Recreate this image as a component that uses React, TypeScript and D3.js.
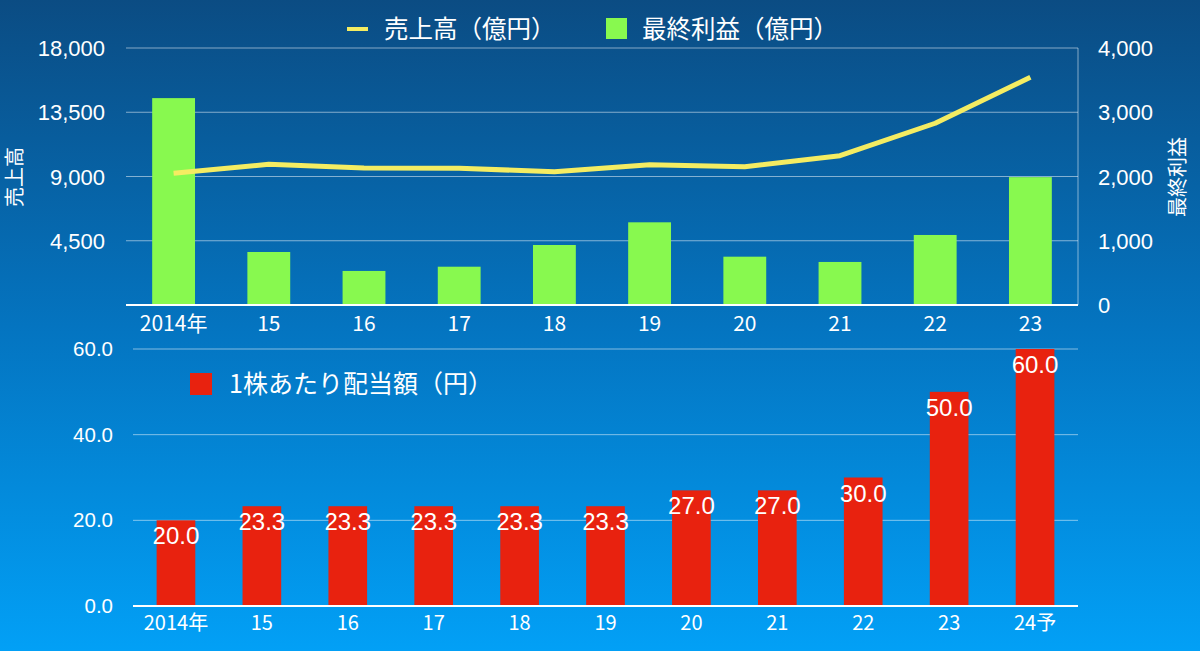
import { useEffect, useRef } from 'react';
import * as d3 from 'd3';

// ── Data ──────────────────────────────────────────────────
const topYears = ['2014年', '15', '16', '17', '18', '19', '20', '21', '22', '23'];
const sales    = [9220, 9860, 9600, 9580, 9330, 9820, 9690, 10460, 12730, 15950];
const profit   = [3220, 825, 530, 596, 934, 1287, 752, 670, 1090, 1990];

const divYears = ['2014年', '15', '16', '17', '18', '19', '20', '21', '22', '23', '24予'];
const dividend = [20.0, 23.3, 23.3, 23.3, 23.3, 23.3, 27.0, 27.0, 30.0, 50.0, 60.0];

const salesTicks  = [0, 4500, 9000, 13500, 18000];
const profitTicks = [0, 1000, 2000, 3000, 4000];
const divTicks    = [0, 20, 40, 60];

const W = 1200;
const H = 651;
const NUM_FONT = '"Helvetica Neue", Arial, "Liberation Sans", sans-serif';
const JP_FONT  = '"Noto Sans CJK JP", "Helvetica Neue", Arial, sans-serif';

const GREEN  = '#88f94f';
const YELLOW = '#f4ec62';
const RED    = '#e8220f';
const GRID   = 'rgba(255,255,255,0.5)';

export default function App() {
  const svgRef = useRef<SVGSVGElement>(null);

  useEffect(() => {
    if (!svgRef.current) return;
    const svg = d3.select(svgRef.current);
    svg.selectAll('*').remove();

    // ── Background ─────────────────────────────────────────
    const defs = svg.append('defs');
    const grad = defs.append('linearGradient').attr('id', 'bg')
      .attr('x1', 0).attr('y1', 0).attr('x2', 0).attr('y2', 1);
    grad.append('stop').attr('offset', '0%').attr('stop-color', '#0b4c83');
    grad.append('stop').attr('offset', '50%').attr('stop-color', '#0474c0');
    grad.append('stop').attr('offset', '100%').attr('stop-color', '#02a0f6');
    svg.append('rect').attr('width', W).attr('height', H).attr('fill', 'url(#bg)');

    // ── Top chart ──────────────────────────────────────────
    const t = { left: 126, right: 1078, top: 48, bottom: 305 };
    const xTop = d3.scaleBand<string>().domain(topYears)
      .range([t.left, t.right]).paddingInner(0.55).paddingOuter(0.275);
    const ySales  = d3.scaleLinear().domain([0, 18000]).range([t.bottom, t.top]);
    const yProfit = d3.scaleLinear().domain([0, 4000]).range([t.bottom, t.top]);

    const gTop = svg.append('g');

    gTop.selectAll('line.grid').data(salesTicks.filter(d => d > 0)).join('line')
      .attr('x1', t.left).attr('x2', t.right)
      .attr('y1', d => ySales(d)).attr('y2', d => ySales(d))
      .attr('stroke', GRID).attr('stroke-width', 1);

    gTop.append('line')
      .attr('x1', t.right).attr('x2', t.right).attr('y1', t.top).attr('y2', t.bottom)
      .attr('stroke', GRID).attr('stroke-width', 1);

    gTop.selectAll('rect.bar').data(profit).join('rect')
      .attr('x', (_, i) => xTop(topYears[i])!)
      .attr('width', xTop.bandwidth())
      .attr('y', d => yProfit(d))
      .attr('height', d => t.bottom - yProfit(d))
      .attr('fill', GREEN);

    const line = d3.line<number>()
      .x((_, i) => xTop(topYears[i])! + xTop.bandwidth() / 2)
      .y(d => ySales(d));
    gTop.append('path').datum(sales)
      .attr('fill', 'none').attr('stroke', YELLOW)
      .attr('stroke-width', 5).attr('stroke-linejoin', 'round')
      .attr('d', line);

    gTop.append('line')
      .attr('x1', t.left).attr('x2', t.right).attr('y1', t.bottom).attr('y2', t.bottom)
      .attr('stroke', '#ffffff').attr('stroke-width', 2);

    // left axis
    gTop.selectAll('text.yl').data(salesTicks.filter(d => d > 0)).join('text')
      .attr('x', 105).attr('y', d => ySales(d) + 8)
      .attr('text-anchor', 'end').attr('fill', '#fff')
      .attr('font-family', NUM_FONT).attr('font-size', 22)
      .text(d => d3.format(',')(d));

    // right axis
    gTop.selectAll('text.yr').data(profitTicks).join('text')
      .attr('x', 1098).attr('y', d => yProfit(d) + 8)
      .attr('text-anchor', 'start').attr('fill', '#fff')
      .attr('font-family', NUM_FONT).attr('font-size', 22)
      .text(d => d3.format(',')(d));

    // x labels
    gTop.selectAll('text.xl').data(topYears).join('text')
      .attr('x', d => xTop(d)! + xTop.bandwidth() / 2).attr('y', 331)
      .attr('text-anchor', 'middle').attr('fill', '#fff')
      .attr('font-family', JP_FONT).attr('font-size', 21)
      .text(d => d);

    // axis titles
    svg.append('text')
      .attr('transform', 'translate(22,177) rotate(-90)')
      .attr('text-anchor', 'middle').attr('fill', '#fff')
      .attr('font-family', JP_FONT).attr('font-size', 20)
      .text('売上高');
    svg.append('text')
      .attr('transform', 'translate(1185,177) rotate(-90)')
      .attr('text-anchor', 'middle').attr('fill', '#fff')
      .attr('font-family', JP_FONT).attr('font-size', 20)
      .text('最終利益');

    // legend
    svg.append('line').attr('x1', 347).attr('x2', 368).attr('y1', 29).attr('y2', 29)
      .attr('stroke', YELLOW).attr('stroke-width', 4);
    svg.append('text').attr('x', 384).attr('y', 38)
      .attr('fill', '#fff').attr('font-family', JP_FONT).attr('font-size', 24.5)
      .text('売上高（億円）');
    svg.append('rect').attr('x', 606).attr('y', 18).attr('width', 21).attr('height', 21)
      .attr('fill', GREEN);
    svg.append('text').attr('x', 642).attr('y', 38)
      .attr('fill', '#fff').attr('font-family', JP_FONT).attr('font-size', 24.5)
      .text('最終利益（億円）');

    // ── Bottom chart ───────────────────────────────────────
    const b = { left: 133, right: 1078, top: 349, bottom: 606 };
    const xBot = d3.scaleBand<string>().domain(divYears)
      .range([b.left, b.right]).paddingInner(0.55).paddingOuter(0.275);
    const yDiv = d3.scaleLinear().domain([0, 60]).range([b.bottom, b.top]);

    const gBot = svg.append('g');

    gBot.selectAll('line.grid').data(divTicks.filter(d => d > 0)).join('line')
      .attr('x1', b.left).attr('x2', b.right)
      .attr('y1', d => yDiv(d)).attr('y2', d => yDiv(d))
      .attr('stroke', GRID).attr('stroke-width', 1);

    gBot.selectAll('rect.bar').data(dividend).join('rect')
      .attr('x', (_, i) => xBot(divYears[i])!)
      .attr('width', xBot.bandwidth())
      .attr('y', d => yDiv(d))
      .attr('height', d => b.bottom - yDiv(d))
      .attr('fill', RED);

    gBot.append('line')
      .attr('x1', b.left).attr('x2', b.right).attr('y1', b.bottom).attr('y2', b.bottom)
      .attr('stroke', '#ffffff').attr('stroke-width', 2);

    gBot.selectAll('text.val').data(dividend).join('text')
      .attr('x', (_, i) => xBot(divYears[i])! + xBot.bandwidth() / 2)
      .attr('y', d => yDiv(d) + 24)
      .attr('text-anchor', 'middle').attr('fill', '#fff')
      .attr('font-family', NUM_FONT).attr('font-size', 24)
      .text(d => d.toFixed(1));

    gBot.selectAll('text.yl').data(divTicks).join('text')
      .attr('x', 113).attr('y', d => yDiv(d) + 7)
      .attr('text-anchor', 'end').attr('fill', '#fff')
      .attr('font-family', NUM_FONT).attr('font-size', 20.5)
      .text(d => d.toFixed(1));

    gBot.selectAll('text.xl').data(divYears).join('text')
      .attr('x', d => xBot(d)! + xBot.bandwidth() / 2).attr('y', 630)
      .attr('text-anchor', 'middle').attr('fill', '#fff')
      .attr('font-family', JP_FONT).attr('font-size', 20)
      .text(d => d);

    // legend
    svg.append('rect').attr('x', 190).attr('y', 373).attr('width', 22).attr('height', 22)
      .attr('fill', RED);
    svg.append('text').attr('x', 229).attr('y', 393)
      .attr('fill', '#fff').attr('font-family', JP_FONT).attr('font-size', 25)
      .text('1株あたり配当額（円）');
  }, []);

  return (
    <svg
      ref={svgRef}
      width={W}
      height={H}
      style={{ position: 'absolute', top: 0, left: 0, display: 'block' }}
    />
  );
}
